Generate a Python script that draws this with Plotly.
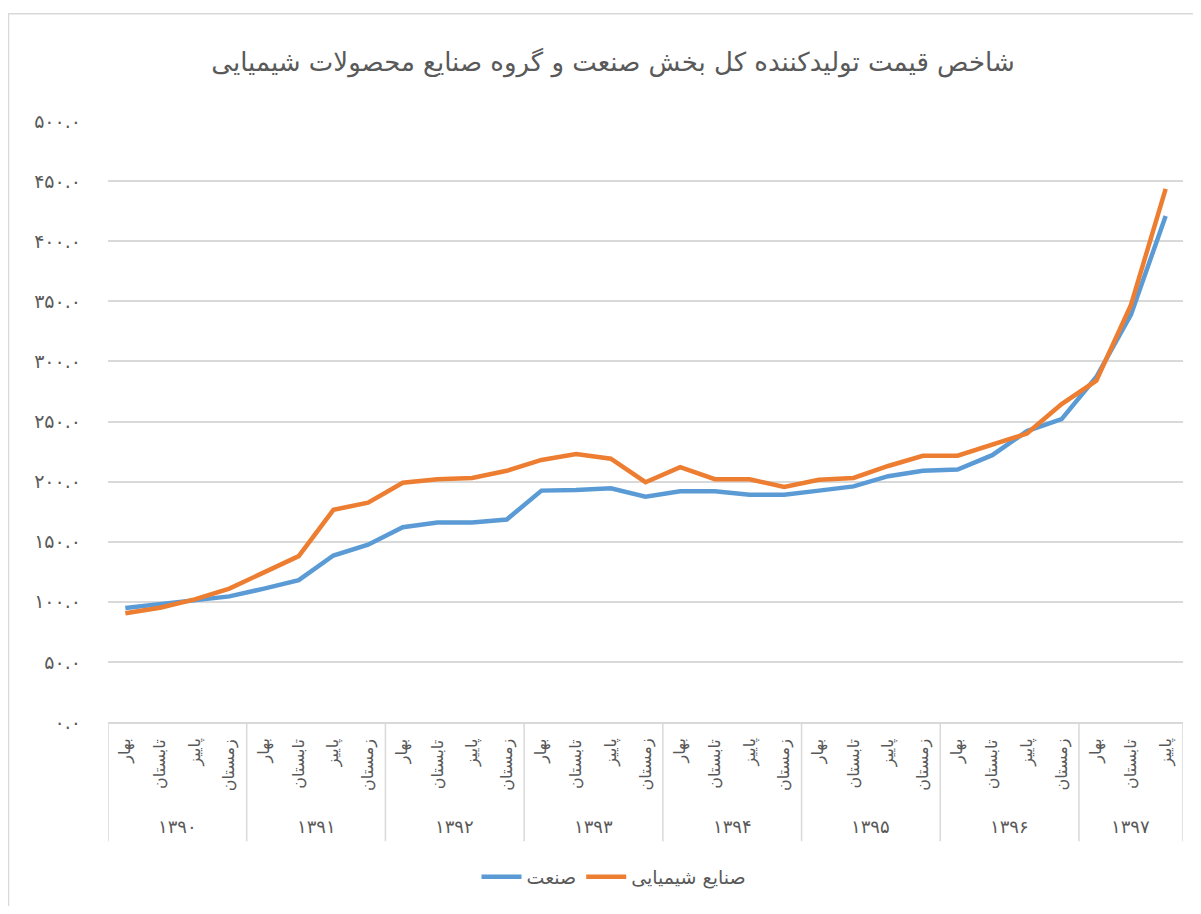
import plotly.graph_objects as go

# ---- data ----
seasons = ["بهار", "تابستان", "پاییز", "زمستان"]
years = ["۱۳۹۰", "۱۳۹۱", "۱۳۹۲", "۱۳۹۳", "۱۳۹۴", "۱۳۹۵", "۱۳۹۶", "۱۳۹۷"]
seasons_per_year = [4, 4, 4, 4, 4, 4, 4, 3]

industry = [94.8, 98, 102, 104.5, 111, 118, 138.5, 147.5, 162, 166, 166, 168.5,
            192.5, 193, 194.5, 187.5, 192, 192, 189, 189, 192.5, 196, 204.5, 209,
            210, 222, 242, 252, 287, 339, 421]
chemical = [90.5, 95, 102, 111, 124.5, 138, 176.5, 182.5, 199, 202, 203, 209,
            218, 223, 219, 199.5, 212, 202, 202, 195.5, 201.5, 203, 213, 221.5,
            221.5, 231, 240, 264.5, 284, 347, 443.5]

series_names = ["صنعت", "صنایع شیمیایی"]
title_text = "شاخص قیمت تولیدکننده کل بخش صنعت و گروه صنایع محصولات شیمیایی"

ytick_vals = [0, 50, 100, 150, 200, 250, 300, 350, 400, 450, 500]
ytick_text = ["۰.۰", "۵۰.۰", "۱۰۰.۰", "۱۵۰.۰", "۲۰۰.۰", "۲۵۰.۰",
              "۳۰۰.۰", "۳۵۰.۰", "۴۰۰.۰", "۴۵۰.۰", "۵۰۰.۰"]

# ---- build categories ----
cat_season = []
for n in seasons_per_year:
    cat_season.extend(seasons[:n])
xs = list(range(len(cat_season)))

FONT = "DejaVu Sans"
GREY = "#595959"
GRID = "#d9d9d9"

FIG_W, FIG_H = 1185, 898   # page body has an 8px margin

fig = go.Figure()
fig.add_trace(go.Scatter(x=xs, y=industry, mode="lines", name=series_names[0],
                         line=dict(color="#5B9BD5", width=4.5)))
fig.add_trace(go.Scatter(x=xs, y=chemical, mode="lines", name=series_names[1],
                         line=dict(color="#ED7D31", width=4.5)))

# plot area geometry (figure pixels)
L, R, T, B = 100, 1175, 113, 718
H = B - T
W = R - L

def py(pix):
    return (B - pix) / H

def px(pix):
    return (pix - L) / W

annotations = []
shapes = []
# season labels
for i, s in enumerate(cat_season):
    annotations.append(dict(x=i, y=py(733), xref="x", yref="paper", text=s,
                            showarrow=False, textangle=-90, xanchor="center",
                            yanchor="top", font=dict(family=FONT, size=16, color=GREY)))
# year labels and dividers
start = 0
for yl, n in zip(years, seasons_per_year):
    annotations.append(dict(x=start + (n - 1) / 2, y=py(823), xref="x", yref="paper",
                            text=yl, showarrow=False, xanchor="center", yanchor="middle",
                            font=dict(family=FONT, size=18, color=GREY)))
    shapes.append(dict(type="line", xref="x", yref="paper", x0=start - 0.5, x1=start - 0.5,
                       y0=0, y1=py(838), line=dict(color=GRID, width=1.5)))
    start += n
shapes.append(dict(type="line", xref="x", yref="paper", x0=start - 0.5, x1=start - 0.5,
                   y0=0, y1=py(838), line=dict(color=GRID, width=1.5)))
# outer chart border
shapes.append(dict(type="rect", xref="paper", yref="paper", x0=px(0.5), x1=px(1200),
                   y0=py(930), y1=py(5), line=dict(color=GRID, width=1.5),
                   fillcolor="rgba(0,0,0,0)", layer="below"))

fig.update_layout(
    width=FIG_W, height=FIG_H,
    margin=dict(l=L, r=FIG_W - R, t=T, b=FIG_H - B),
    paper_bgcolor="white", plot_bgcolor="white",
    title=dict(text=title_text, x=605 / FIG_W, xanchor="center", y=1 - 54 / FIG_H,
               yanchor="middle", font=dict(family=FONT, size=26, color=GREY)),
    xaxis=dict(range=[-0.5, len(xs) - 0.5], showgrid=False, zeroline=False,
               showticklabels=False, showline=True, linecolor=GRID, linewidth=1.5,
               ticks=""),
    yaxis=dict(range=[0, 500], tickvals=ytick_vals, ticktext=ytick_text,
               showgrid=True, gridcolor=GRID, gridwidth=1.5, zeroline=False,
               showline=False, ticks="", ticklabelstandoff=26,
               tickfont=dict(family=FONT, size=19, color=GREY)),
    legend=dict(orientation="h", x=px(606), xanchor="center", y=py(874),
                yanchor="middle", font=dict(family=FONT, size=19, color=GREY),
                itemwidth=40),
    annotations=annotations,
    shapes=shapes,
    showlegend=True,
)

fig.write_html("out.html")
